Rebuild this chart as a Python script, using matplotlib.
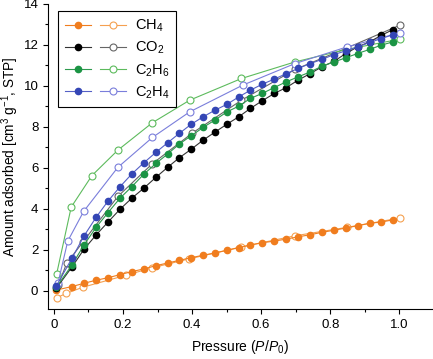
import matplotlib
matplotlib.use('Agg')
import matplotlib.pyplot as plt
from matplotlib.legend_handler import HandlerTuple
from matplotlib.ticker import MultipleLocator

plt.rcParams['font.family'] = ['Liberation Sans', 'DejaVu Sans']
plt.rcParams['mathtext.fontset'] = 'custom'
plt.rcParams['mathtext.rm'] = 'Liberation Sans'
plt.rcParams['mathtext.it'] = 'Liberation Sans:italic'

# ------------------
# DATA
# ------------------
p_ads = [0.007, 0.052, 0.087, 0.122, 0.156, 0.191, 0.225, 0.260, 0.295, 0.329,
         0.363, 0.397, 0.432, 0.466, 0.501, 0.535, 0.569, 0.603, 0.638, 0.673,
         0.707, 0.742, 0.776, 0.811, 0.845, 0.879, 0.914, 0.948, 0.982]

ch4_ads = [0.03, 0.20, 0.36, 0.51, 0.63, 0.78, 0.93, 1.06, 1.22, 1.35,
           1.48, 1.61, 1.73, 1.84, 1.97, 2.10, 2.23, 2.34, 2.42, 2.52,
           2.63, 2.73, 2.85, 2.95, 3.06, 3.17, 3.29, 3.35, 3.46]
co2_ads = [0.12, 1.15, 2.02, 2.72, 3.34, 3.97, 4.51, 5.00, 5.53, 6.02,
           6.49, 6.90, 7.35, 7.74, 8.13, 8.49, 8.90, 9.27, 9.63, 9.92,
           10.28, 10.60, 10.93, 11.20, 11.58, 11.90, 12.15, 12.47, 12.75]
c2h6_ads = [0.17, 1.25, 2.23, 3.09, 3.80, 4.51, 5.07, 5.68, 6.21, 6.67,
            7.16, 7.56, 7.97, 8.33, 8.73, 9.01, 9.39, 9.63, 9.92, 10.20,
            10.44, 10.68, 10.96, 11.17, 11.37, 11.58, 11.78, 11.99, 12.15]
c2h4_ads = [0.23, 1.58, 2.67, 3.58, 4.36, 5.07, 5.69, 6.24, 6.75, 7.22,
            7.68, 8.12, 8.49, 8.81, 9.10, 9.46, 9.79, 10.08, 10.33, 10.60,
            10.85, 11.09, 11.29, 11.53, 11.71, 11.90, 12.12, 12.31, 12.50]

ch4_p_des = [1.003, 0.848, 0.698, 0.541, 0.391, 0.285, 0.208, 0.084, 0.036, 0.009]
ch4_des = [3.55, 3.09, 2.68, 2.13, 1.55, 1.12, 0.75, 0.17, -0.13, -0.34]
co2_p_des = [1.001, 0.848, 0.698, 0.543, 0.401, 0.285, 0.185, 0.085, 0.037, 0.013]
co2_des = [12.96, 11.85, 10.80, 9.30, 7.70, 6.20, 4.60, 2.40, 1.34, 0.30]
c2h6_p_des = [1.001, 0.848, 0.698, 0.543, 0.393, 0.285, 0.185, 0.110, 0.050, 0.008]
c2h6_des = [12.28, 11.78, 11.17, 10.36, 9.30, 8.20, 6.86, 5.62, 4.08, 0.83]
c2h4_p_des = [1.001, 0.848, 0.698, 0.546, 0.393, 0.285, 0.185, 0.086, 0.040, 0.012]
c2h4_des = [12.59, 11.90, 11.09, 10.03, 8.73, 7.48, 6.02, 3.87, 2.42, 0.39]

labels = ['CH$_4$', 'CO$_2$', 'C$_2$H$_6$', 'C$_2$H$_4$']

# ------------------
# PLOT
# ------------------
fig = plt.figure(figsize=(4.33, 3.59), dpi=100)
ax = fig.add_axes([0.111, 0.139, 0.887, 0.85])

series = [
    (ch4_ads, ch4_p_des, ch4_des, '#F07D1E', '#F07D1E', '#F5A050'),
    (co2_ads, co2_p_des, co2_des, '#000000', '#333333', '#666666'),
    (c2h6_ads, c2h6_p_des, c2h6_des, '#1B9444', '#2E9A4E', '#5DBB5D'),
    (c2h4_ads, c2h4_p_des, c2h4_des, '#3446B5', '#5560C6', '#7A7EDB'),
]

handles = []
for (ads, p_des, des, c_fill, c_line, c_open), lab in zip(series, labels):
    h1, = ax.plot(p_ads, ads, '-o', color=c_line, lw=0.8, ms=4.5,
                  mfc=c_fill, mec=c_fill, zorder=3)
    h2, = ax.plot(p_des, des, '-o', color=c_open, lw=0.8, ms=5,
                  mfc='white', mec=c_open, mew=0.8, zorder=2)
    handles.append((h1, h2))

ax.set_xlim(-0.017, 1.095)
ax.set_ylim(-0.9, 14)
ax.xaxis.set_minor_locator(MultipleLocator(0.1))
ax.yaxis.set_major_locator(MultipleLocator(2))
ax.yaxis.set_minor_locator(MultipleLocator(1))
ax.set_xticks([0, 0.2, 0.4, 0.6, 0.8, 1.0])
ax.set_xticklabels(['0', '0.2', '0.4', '0.6', '0.8', '1.0'])
ax.tick_params(which='both', direction='out', labelsize=9.5, width=0.8)
ax.tick_params(which='major', length=3.5)
ax.tick_params(which='minor', length=2.5)
ax.spines['top'].set_visible(False)
ax.spines['right'].set_visible(False)

ax.set_xlabel('Pressure ($P$/$P_0$)', fontsize=10, labelpad=5)
ax.set_ylabel('Amount adsorbed [cm$^3$ g$^{-1}$, STP]', fontsize=9.8, labelpad=2)

leg = ax.legend(handles, labels, handler_map={tuple: HandlerTuple(ndivide=None, pad=0.6)},
                loc='upper left', bbox_to_anchor=(0.008, 1.0), fontsize=10.5,
                handlelength=4.2, handletextpad=0.6, fancybox=False, framealpha=1,
                edgecolor='black', borderpad=0.45, labelspacing=0.4)
leg.get_frame().set_linewidth(0.8)

fig.savefig('out.png', dpi=100)
